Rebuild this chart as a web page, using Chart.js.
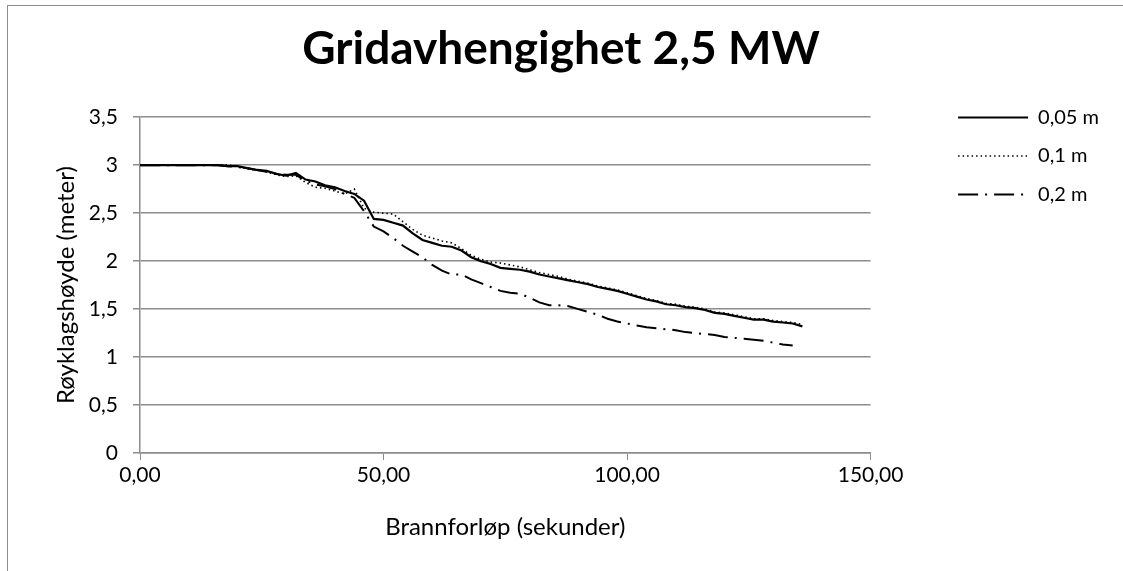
<!DOCTYPE html>
<html>
<head>
<meta charset="utf-8">
<script src="https://cdn.jsdelivr.net/npm/chart.js@4"></script>
<style>
    html, body { margin: 0; padding: 0; background: #fff; overflow: hidden; }
    #frame { position: absolute; left: 7px; top: 5px; width: 1130px; height: 580px; border: 1px solid #8c8c8c; }
    #wrap { position: absolute; left: 8px; top: 6px; width: 1115px; height: 565px; }
</style>
</head>
<body>
<div id="frame"></div>
<div id="wrap"><canvas id="c"></canvas></div>
<script>
const TITLE = 'Gridavhengighet 2,5 MW';
const X_TITLE = 'Brannforløp (sekunder)';
const Y_TITLE = 'Røyklagshøyde (meter)';
const SERIES_NAMES = ['0,05 m', '0,1 m', '0,2 m'];

// time (s)
const times = [0, 2, 4, 6, 8, 10, 12, 14, 16, 18,
    20, 22, 24, 26, 28, 30, 32, 34, 36, 38,
    40, 42, 44, 46, 48, 50, 52, 54, 56, 58,
    60, 62, 64, 66, 68, 70, 72, 74, 76, 78,
    80, 82, 84, 86, 88, 90, 92, 94, 96, 98,
    100, 102, 104, 106, 108, 110, 112, 114, 116, 118,
    120, 122, 124, 126, 128, 130, 132, 134, 136];

const grid005 = [3.00, 3.00, 3.00, 3.00, 3.00, 3.00, 3.00, 3.00, 3.00, 2.99,
    2.99, 2.97, 2.95, 2.94, 2.91, 2.89, 2.92, 2.85, 2.83, 2.79,
    2.77, 2.73, 2.70, 2.63, 2.44, 2.43, 2.40, 2.37, 2.29, 2.22,
    2.19, 2.16, 2.15, 2.11, 2.04, 2.00, 1.97, 1.93, 1.92, 1.91,
    1.89, 1.86, 1.84, 1.82, 1.80, 1.78, 1.76, 1.73, 1.71, 1.69,
    1.66, 1.63, 1.60, 1.58, 1.55, 1.54, 1.52, 1.51, 1.49, 1.46,
    1.45, 1.43, 1.41, 1.39, 1.39, 1.37, 1.36, 1.35, 1.32];

const grid010 = [3.00, 3.00, 3.00, 3.00, 3.00, 3.00, 3.00, 3.00, 3.00, 3.00,
    2.99, 2.96, 2.95, 2.93, 2.90, 2.88, 2.89, 2.82, 2.77, 2.76,
    2.73, 2.70, 2.75, 2.55, 2.51, 2.50, 2.49, 2.41, 2.33, 2.27,
    2.24, 2.21, 2.19, 2.13, 2.06, 2.02, 1.99, 1.98, 1.96, 1.94,
    1.91, 1.88, 1.86, 1.84, 1.81, 1.79, 1.77, 1.74, 1.72, 1.70,
    1.67, 1.64, 1.61, 1.59, 1.56, 1.55, 1.53, 1.52, 1.50, 1.47,
    1.46, 1.44, 1.42, 1.40, 1.40, 1.38, 1.37, 1.36, 1.34];

const grid020 = [3.00, 3.00, 3.00, 3.00, 3.00, 3.00, 3.00, 3.00, 3.00, 2.99,
    2.98, 2.97, 2.95, 2.93, 2.91, 2.90, 2.90, 2.84, 2.80, 2.78,
    2.75, 2.70, 2.66, 2.52, 2.36, 2.31, 2.24, 2.16, 2.10, 2.04,
    1.96, 1.90, 1.86, 1.86, 1.81, 1.77, 1.73, 1.69, 1.67, 1.66,
    1.62, 1.57, 1.54, 1.54, 1.53, 1.50, 1.47, 1.44, 1.40, 1.37,
    1.35, 1.33, 1.31, 1.30, 1.29, 1.28, 1.26, 1.25, 1.24, 1.23,
    1.21, 1.20, 1.19, 1.18, 1.17, 1.15, 1.13, 1.12, null];

const FONT = 'Lato, "Open Sans", sans-serif';
const GRAY = '#8c8c8c';

function points(values){
    return times.map((t, i) => ({x: t, y: values[i]}));
}

function commaNum(v, digits){
    return v.toFixed(digits).replace('.', ',');
}

// legend items take dash and width from the line, not from the points
function legendLabels(chart){
    return Chart.defaults.plugins.legend.labels.generateLabels(chart).map(item => {
        const ds = chart.data.datasets[item.datasetIndex];
        item.lineDash = ds.borderDash || [];
        item.lineWidth = ds.borderWidth;
        item.strokeStyle = ds.borderColor;
        return item;
    });
}

new Chart(document.getElementById('c').getContext('2d'), {
    type: 'line',
    data: {
        datasets: [{
            label: SERIES_NAMES[0],
            data: points(grid005),
            borderColor: '#000',
            backgroundColor: '#000',
            borderWidth: 2.2,
            pointRadius: 0
        }, {
            label: SERIES_NAMES[1],
            data: points(grid010),
            borderColor: '#000',
            backgroundColor: '#000',
            borderWidth: 1.6,
            borderDash: [1.5, 3],
            pointRadius: 0
        }, {
            label: SERIES_NAMES[2],
            data: points(grid020),
            borderColor: '#000',
            backgroundColor: '#000',
            borderWidth: 2,
            borderDash: [20, 7, 2, 7],
            pointRadius: 0
        }]
    },
    options: {
        responsive: true,
        maintainAspectRatio: false,
        animation: false,
        layout: { padding: { left: 5, top: 0, right: 14, bottom: 0 } },
        plugins: {
            title: {
                display: true,
                text: TITLE,
                color: '#000',
                font: { family: FONT, size: 46, weight: 'bold' },
                padding: { top: 16, bottom: 40 }
            },
            legend: {
                position: 'right',
                align: 'start',
                title: {
                    display: true,
                    text: '',
                    font: { size: 10, lineHeight: 1 },
                    padding: { top: 0, bottom: 73 }
                },
                labels: {
                    usePointStyle: true,
                    pointStyle: 'line',
                    pointStyleWidth: 70,
                    color: '#000',
                    padding: 18.5,
                    font: { family: FONT, size: 20 },
                    generateLabels: legendLabels
                }
            },
            tooltip: { enabled: false }
        },
        scales: {
            x: {
                type: 'linear',
                min: 0,
                max: 150,
                afterFit: s => { s.height = 118; },
                ticks: {
                    stepSize: 50,
                    color: '#000',
                    padding: 3,
                    font: { family: FONT, size: 21 },
                    callback: v => commaNum(v, 2)
                },
                grid: { drawOnChartArea: false, color: GRAY, tickLength: 7 },
                border: { color: GRAY, width: 1.5 },
                title: {
                    display: true,
                    text: X_TITLE,
                    color: '#000',
                    font: { family: FONT, size: 24 },
                    padding: { top: 0, bottom: 29 }
                }
            },
            y: {
                min: 0,
                max: 3.5,
                afterFit: s => { s.width = 127; },
                ticks: {
                    stepSize: 0.5,
                    color: '#000',
                    padding: 15,
                    font: { family: FONT, size: 21 },
                    callback: v => Number.isInteger(v) ? String(v) : commaNum(v, 1)
                },
                grid: { color: GRAY, lineWidth: 1.5, tickLength: 7 },
                border: { color: GRAY, width: 1.5 },
                title: {
                    display: true,
                    text: Y_TITLE,
                    color: '#000',
                    font: { family: FONT, size: 24 },
                    padding: { top: 39, bottom: 0 }
                }
            },
            // empty right axis, keeps the gap between plot and legend
            gap: {
                position: 'right',
                display: true,
                afterFit: s => { s.width = 69; },
                ticks: { display: false },
                grid: { display: false },
                border: { display: false }
            }
        }
    }
});
</script>
</body>
</html>
